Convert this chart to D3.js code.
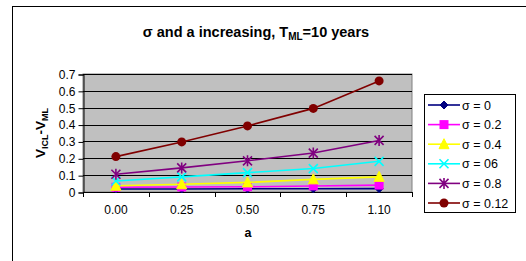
<!DOCTYPE html>
<html>
<head>
<meta charset="utf-8">
<script src="https://cdn.jsdelivr.net/npm/d3@7"></script>
<style>
  body { margin: 0; background: #fff; }
  svg { display: block; font-family: "Liberation Sans", Arial, sans-serif; }
</style>
</head>
<body>
<svg id="chart" width="526" height="261"></svg>
<script>
// categories on the x axis
var categories = ['0.00', '0.25', '0.50', '0.75', '1.10'];
var yTicks = [0, 0.1, 0.2, 0.3, 0.4, 0.5, 0.6, 0.7];

// series values
var sigma0   = [0.018, 0.018, 0.019, 0.019, 0.020];
var sigma02  = [0.028, 0.030, 0.031, 0.036, 0.041];
var sigma04  = [0.037, 0.046, 0.057, 0.075, 0.090];
var sigma06  = [0.065, 0.090, 0.115, 0.139, 0.182];
var sigma08  = [0.105, 0.143, 0.185, 0.231, 0.306];
var sigma012 = [0.210, 0.297, 0.392, 0.496, 0.659];

var seriesNames = ['σ = 0', 'σ = 0.2', 'σ = 0.4', 'σ = 06', 'σ = 0.8', 'σ = 0.12'];
var seriesValues = [sigma0, sigma02, sigma04, sigma06, sigma08, sigma012];
var seriesColors = ['#000080', '#FF00FF', '#FFFF00', '#00FFFF', '#800080', '#800000'];
var seriesMarkers = ['diamond', 'square', 'triangle', 'x', 'star', 'circle'];

var svg = d3.select('#chart');

// outer chart frame
svg.append('rect')
  .attr('x', 12.5).attr('y', 6.5)
  .attr('width', 530).attr('height', 270)
  .attr('fill', 'none').attr('stroke', '#000').attr('stroke-width', 1);

var plot = { left: 83, right: 412, top: 74, bottom: 192 };

var x = d3.scaleBand().domain(categories).range([plot.left, plot.right]);
var y = d3.scaleLinear().domain([0, 0.7]).range([plot.bottom, plot.top]);

// plot background
svg.append('rect')
  .attr('x', plot.left).attr('y', plot.top)
  .attr('width', plot.right - plot.left).attr('height', plot.bottom - plot.top)
  .attr('fill', '#C0C0C0').attr('stroke', '#808080').attr('stroke-width', 1);

// gridlines
svg.append('g').selectAll('line')
  .data(yTicks.slice(1))
  .join('line')
  .attr('x1', plot.left).attr('x2', plot.right)
  .attr('y1', function(d) { return Math.round(y(d)) + 0.5; })
  .attr('y2', function(d) { return Math.round(y(d)) + 0.5; })
  .attr('stroke', '#000').attr('stroke-width', 1);

// y axis
var yAxis = svg.append('g')
  .attr('transform', 'translate(' + (plot.left + 0.5) + ',0.5)')
  .call(d3.axisLeft(y).tickValues(yTicks).tickSize(5).tickPadding(3)
    .tickFormat(function(d) { return d === 0 ? '0' : d3.format('.1f')(d); }));
yAxis.select('.domain').attr('stroke', '#000');
yAxis.selectAll('.tick line').attr('stroke', '#000');
yAxis.selectAll('text').attr('font-size', 12).attr('fill', '#000')
  .attr('font-family', '"Liberation Sans", Arial, sans-serif');

// x axis: ticks at category boundaries
var xg = svg.append('g');
xg.append('line')
  .attr('x1', plot.left).attr('x2', plot.right)
  .attr('y1', plot.bottom + 0.5).attr('y2', plot.bottom + 0.5)
  .attr('stroke', '#000');
var bounds = categories.map(function(c) { return x(c); }).concat([x(categories[categories.length - 1]) + x.bandwidth()]);
xg.selectAll('line.tk')
  .data(bounds)
  .join('line').attr('class', 'tk')
  .attr('x1', function(d) { return Math.round(d) + 0.5; })
  .attr('x2', function(d) { return Math.round(d) + 0.5; })
  .attr('y1', plot.bottom).attr('y2', plot.bottom + 5)
  .attr('stroke', '#000');
xg.selectAll('text')
  .data(categories)
  .join('text')
  .attr('x', function(d) { return x(d) + x.bandwidth() / 2; })
  .attr('y', 214)
  .attr('text-anchor', 'middle')
  .attr('font-size', 12)
  .text(function(d) { return d; });

// marker drawing
function drawMarker(g, type, color) {
  if (type === 'diamond') {
    g.append('path').attr('d', 'M0,-4L4,0L0,4L-4,0Z').attr('fill', color).attr('stroke', color);
  } else if (type === 'square') {
    g.append('rect').attr('x', -4.5).attr('y', -4.5).attr('width', 9).attr('height', 9).attr('fill', color);
  } else if (type === 'triangle') {
    g.append('path').attr('d', 'M0,-5.5L5,4.5L-5,4.5Z').attr('fill', color).attr('stroke', color);
  } else if (type === 'x') {
    g.append('path').attr('d', 'M-4.5,-4.5L4.5,4.5M-4.5,4.5L4.5,-4.5').attr('stroke', color).attr('stroke-width', 1.6).attr('fill', 'none');
  } else if (type === 'star') {
    g.append('path').attr('d', 'M-4.5,-4.5L4.5,4.5M-4.5,4.5L4.5,-4.5M0,-5.5L0,5.5').attr('stroke', color).attr('stroke-width', 1.6).attr('fill', 'none');
  } else if (type === 'circle') {
    g.append('circle').attr('r', 4.5).attr('fill', color);
  }
}

var line = d3.line()
  .x(function(d, i) { return x(categories[i]) + x.bandwidth() / 2; })
  .y(function(d) { return y(d); });

seriesValues.forEach(function(vals, si) {
  svg.append('path')
    .datum(vals)
    .attr('d', line)
    .attr('fill', 'none')
    .attr('stroke', seriesColors[si])
    .attr('stroke-width', 1.6);
  vals.forEach(function(v, i) {
    var g = svg.append('g')
      .attr('transform', 'translate(' + (x(categories[i]) + x.bandwidth() / 2) + ',' + y(v) + ')');
    drawMarker(g, seriesMarkers[si], seriesColors[si]);
  });
});

// title
var title = svg.append('text')
  .attr('x', 256).attr('y', 37)
  .attr('text-anchor', 'middle')
  .attr('font-size', 14.5).attr('font-weight', 'bold');
title.append('tspan').text('σ and a increasing, T');
title.append('tspan').attr('font-size', 10).attr('dy', 3).text('ML');
title.append('tspan').attr('dy', -3).text('=10 years');

// y axis title
var yt = svg.append('text')
  .attr('transform', 'translate(45,133) rotate(-90)')
  .attr('text-anchor', 'middle')
  .attr('font-size', 13.5).attr('font-weight', 'bold');
yt.append('tspan').text('V');
yt.append('tspan').attr('font-size', 9).attr('dy', 3).text('ICL');
yt.append('tspan').attr('dy', -3).text('-V');
yt.append('tspan').attr('font-size', 9).attr('dy', 3).text('ML');

// x axis title
svg.append('text')
  .attr('x', 248).attr('y', 237)
  .attr('text-anchor', 'middle')
  .attr('font-size', 12.5).attr('font-weight', 'bold')
  .text('a');

// legend
var legend = svg.append('g');
legend.append('rect')
  .attr('x', 424.5).attr('y', 94.5)
  .attr('width', 91).attr('height', 118)
  .attr('fill', '#fff').attr('stroke', '#000');
seriesNames.forEach(function(name, i) {
  var ly = 105 + i * 19.6;
  var g = legend.append('g');
  g.append('line')
    .attr('x1', 428).attr('x2', 460).attr('y1', ly).attr('y2', ly)
    .attr('stroke', seriesColors[i]).attr('stroke-width', 1.6);
  var m = g.append('g').attr('transform', 'translate(444,' + ly + ')');
  drawMarker(m, seriesMarkers[i], seriesColors[i]);
  g.append('text')
    .attr('x', 462).attr('y', ly + 4.5)
    .attr('font-size', 12.5)
    .text(name);
});
</script>
</body>
</html>
